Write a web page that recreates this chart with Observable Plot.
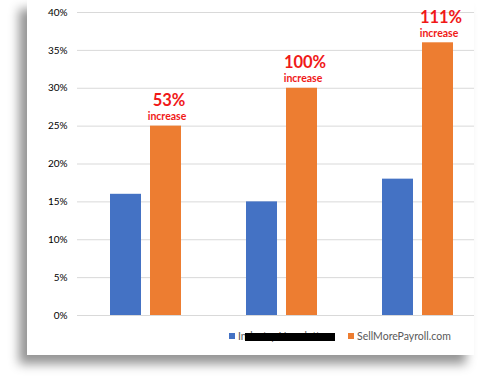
<!DOCTYPE html>
<html>
<head>
<meta charset="utf-8">
<script src="https://cdn.jsdelivr.net/npm/d3@7"></script>
<script src="https://cdn.jsdelivr.net/npm/@observablehq/plot@0.6"></script>
<style>
  html, body { margin: 0; padding: 0; background: #fff; width: 480px; height: 380px; overflow: hidden; font-family: Lato, "Open Sans", sans-serif; }
  #frame { position: absolute; left: 27px; top: 0; width: 447px; height: 355px; background: #fff; box-shadow: -8px 9px 10px rgba(0,0,0,0.42); overflow: hidden; }
  #chart { position: absolute; left: -27px; top: 0; width: 485px; height: 320px; }
  #chart svg { max-width: none !important; display: block; }
  .legend { position: absolute; font-size: 10.5px; color: #595959; white-space: nowrap; line-height: 1; }
  .sw { position: absolute; width: 6px; height: 6px; }
  .redact { position: absolute; background: #000; }
</style>
</head>
<body>
<div id="frame"><div id="chart"></div></div>
<script>
const groups = ["1", "2", "3"];
const series = ["Industry Newsletter", "SellMorePayroll.com"];
const newsletter = [16, 15, 18];
const sellMore = [25, 30, 36];
const increaseLabels = ["53%", "100%", "111%"];
const yTicks = [0, 5, 10, 15, 20, 25, 30, 35, 40];
const colors = ["#4472C4", "#ED7D31"];

const rows = [];
groups.forEach((g, i) => {
  rows.push({group: g, series: series[0], value: newsletter[i], inc: ""});
  rows.push({group: g, series: series[1], value: sellMore[i], inc: increaseLabels[i]});
});

const plot = Plot.plot({
  width: 485,
  height: 320,
  marginLeft: 77,
  marginRight: 0,
  marginTop: 12,
  marginBottom: 5,
  style: {fontFamily: "Lato, sans-serif", background: "transparent", overflow: "visible", maxWidth: "none"},
  facet: {data: rows, x: "group", marginTop: 0, marginRight: 0, marginBottom: 0, marginLeft: 0},
  fx: {domain: groups, padding: 0, axis: null},
  x: {domain: series, paddingInner: 0.225, paddingOuter: 0.81, axis: null},
  y: {domain: [0, 40], ticks: yTicks, tickFormat: d => d + "%", tickSize: 0, tickPadding: 10, label: null},
  color: {domain: series, range: colors},
  marks: [
    Plot.ruleY(yTicks, {stroke: "#d9d9d9", strokeWidth: 1}),
    Plot.barY(rows, {x: "series", y: "value", fill: "series"}),
    Plot.text(rows, {x: "series", y: "value", text: d => d.inc ? "increase" : "", lineAnchor: "bottom", dy: -6, dx: 1, fill: "#f01818", fontSize: 10.5, fontWeight: "bold"}),
    Plot.text(rows, {x: "series", y: "value", text: "inc", lineAnchor: "bottom", dy: -20, dx: 3, fill: "#f01818", fontSize: 16.5, fontWeight: "bold"})
  ]
});
const yAxis = plot.querySelector("[aria-label='y-axis']");
if (yAxis) { yAxis.setAttribute("fill", "#595959"); yAxis.setAttribute("font-size", "10.5"); }
document.getElementById("chart").appendChild(plot);

const frame = document.getElementById("frame");
function add(html) { frame.insertAdjacentHTML("beforeend", html); }
add(`<div class="sw" style="left:${229-27}px;top:333px;background:${colors[0]}"></div>`);
add(`<div class="legend" style="left:${238-27}px;top:331px">${series[0]}</div>`);
add(`<div class="redact" style="left:${245-27}px;top:333px;width:90px;height:8px"></div>`);
add(`<div class="sw" style="left:${348-27}px;top:333px;background:${colors[1]}"></div>`);
add(`<div class="legend" style="left:${357-27}px;top:331px">${series[1]}</div>`);
</script>
</body>
</html>
